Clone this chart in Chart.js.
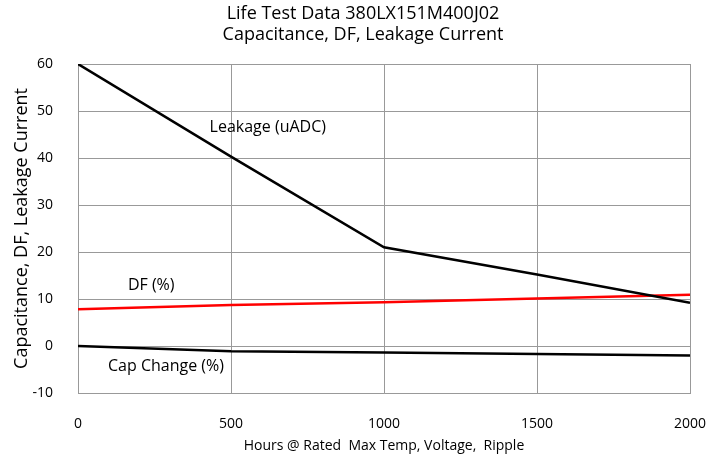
<!DOCTYPE html>
<html lang="en">
<head>
<meta charset="UTF-8">
<script src="https://cdn.jsdelivr.net/npm/chart.js"></script>
<title>Life Test Data 380LX151M400J02</title>
<style>
  html, body { margin: 0; padding: 0; background: #fff; }
  #wrap { width: 725px; height: 458px; }
</style>
</head>
<body>
<div id="wrap"><canvas id="grafico"></canvas></div>
<script>
const horas = [0, 500, 1000, 1500, 2000];
const leakage = [60, 40.3, 21, 15.2, 9.2];
const df = [7.8, 8.7, 9.3, 10.1, 10.9];
const capChange = [0, -1.1, -1.4, -1.7, -2.0];
const yTicks = [-10, 0, 10, 20, 30, 40, 50, 60];

// etiquetas dentro del grafico: [texto, x, y]
const etiquetas = [
    ["Leakage (uADC)", 430, 46.6],
    ["DF (%)", 163, 12.9],
    ["Cap Change (%)", 98, -4.4]
];

const fuente = "'Open Sans', 'Noto Sans', sans-serif";

function puntos(valores) {
    return horas.map((h, i) => ({ x: h, y: valores[i] }));
}

const etiquetasPlugin = {
    id: 'etiquetas',
    afterDatasetsDraw(chart) {
        const ctx = chart.ctx;
        const xs = chart.scales.x, ys = chart.scales.y;
        ctx.save();
        ctx.font = "16px " + fuente;
        ctx.fillStyle = "#000";
        ctx.textAlign = "left";
        ctx.textBaseline = "middle";
        etiquetas.forEach(e => {
            ctx.fillText(e[0], xs.getPixelForValue(e[1]), ys.getPixelForValue(e[2]));
        });
        ctx.restore();
    }
};

new Chart(document.getElementById('grafico'), {
    type: 'line',
    data: {
        datasets: [
            { label: 'Leakage (uADC)', data: puntos(leakage), borderColor: '#000', borderWidth: 2.5 },
            { label: 'DF (%)', data: puntos(df), borderColor: '#ff0000', borderWidth: 2.5 },
            { label: 'Cap Change (%)', data: puntos(capChange), borderColor: '#000', borderWidth: 2.5 }
        ]
    },
    options: {
        responsive: true,
        maintainAspectRatio: false,
        animation: false,
        elements: { point: { radius: 0 }, line: { tension: 0 } },
        layout: { padding: { left: 11, right: 10, top: 0, bottom: 0 } },
        plugins: {
            legend: { display: false },
            tooltip: { enabled: false },
            title: {
                display: true,
                text: ['Life Test Data 380LX151M400J02', 'Capacitance, DF, Leakage Current'],
                color: '#000',
                font: { family: fuente, size: 18, weight: 'normal', lineHeight: '21px' },
                padding: { top: 3, bottom: 19 }
            }
        },
        scales: {
            x: {
                type: 'linear',
                min: 0, max: 2000,
                ticks: {
                    stepSize: 500, color: '#000', padding: 23,
                    font: { family: fuente, size: 14 },
                    callback: v => String(v)
                },
                grid: { color: '#999', drawTicks: false },
                border: { color: '#999' },
                title: {
                    display: true,
                    text: 'Hours @ Rated  Max Temp, Voltage,  Ripple',
                    color: '#000',
                    font: { family: fuente, size: 14 },
                    padding: { top: 1, bottom: 4 }
                },
                afterFit(scale) {
                    scale.height = 65;
                    scale.paddingRight = 35;
                }
            },
            y: {
                min: -10, max: 60,
                afterBuildTicks(scale) { scale.ticks = yTicks.map(v => ({ value: v })); },
                ticks: { color: '#000', padding: 25, font: { family: fuente, size: 14 } },
                grid: { color: '#999', drawTicks: false },
                border: { color: '#999' },
                title: {
                    display: true,
                    text: 'Capacitance, DF, Leakage Current',
                    color: '#000',
                    font: { family: fuente, size: 18 },
                    padding: { top: 0, bottom: 0 }
                },
                afterFit(scale) { scale.width = 67; }
            }
        }
    },
    plugins: [etiquetasPlugin]
});
</script>
</body>
</html>
